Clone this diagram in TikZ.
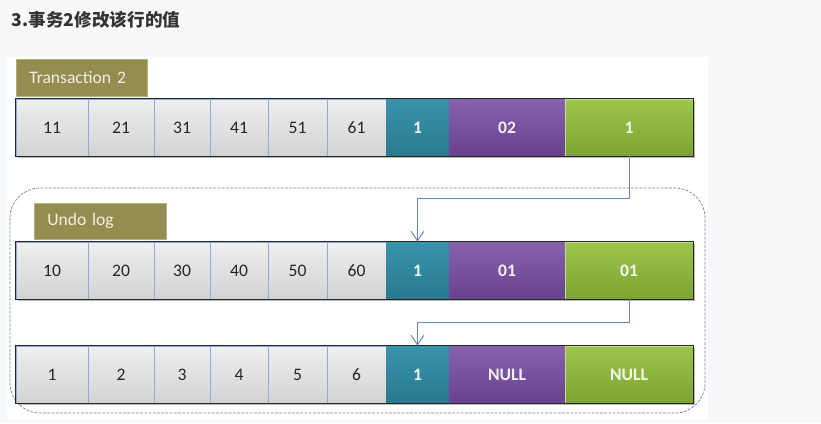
\documentclass[tikz,border=0pt]{standalone}
\usepackage{fontspec}
\setmainfont{Carlito}
\newfontfamily\cjkfont{Noto Sans CJK SC}
\usetikzlibrary{arrows.meta,fit,backgrounds,shadows}

\definecolor{pagebg}{HTML}{F7F8FA}
\definecolor{titletext}{HTML}{333333}
\definecolor{tagfill}{HTML}{958C50}
\definecolor{tagtext}{HTML}{F2F0E2}
\definecolor{graytop}{HTML}{EFEFEF}
\definecolor{graybot}{HTML}{D2D2D2}
\definecolor{cellline}{HTML}{8EAADB}
\definecolor{celltext}{HTML}{262626}
\definecolor{tealtop}{HTML}{3893AA}
\definecolor{tealbot}{HTML}{2A7A8F}
\definecolor{purptop}{HTML}{8762AE}
\definecolor{purpbot}{HTML}{68418F}
\definecolor{greentop}{HTML}{9DC44B}
\definecolor{greenbot}{HTML}{7DA432}
\definecolor{linkblue}{HTML}{5F8BC6}
\definecolor{undoedge}{HTML}{7A7F99}

\newcommand{\pxu}{0.025cm}

\begin{document}
\begin{tikzpicture}[x=0.025cm,y=-0.025cm,
    cell/.style={inner sep=0pt,minimum height=57*\pxu,font=\fontsize{12.5}{14}\selectfont},
    gcell/.style={cell,draw=cellline,line width=0.5pt,top color=graytop,bottom color=graybot,text=celltext},
    tcell/.style={cell,top color=tealtop,bottom color=tealbot,text=white!90!tealtop,font=\fontsize{12.5}{14}\selectfont\bfseries},
    pcell/.style={cell,top color=purptop,bottom color=purpbot,text=white!90!purptop,font=\fontsize{12.5}{14}\selectfont\bfseries},
    ecell/.style={cell,draw=greentop!60!white,line width=0.4pt,top color=greentop,bottom color=greenbot,text=white!90!greentop,font=\fontsize{12.5}{14}\selectfont\bfseries},
    rowframe/.style={inner sep=0pt,fill=white,drop shadow={shadow xshift=1.5pt,shadow yshift=-1.5pt,opacity=0.55}},
    rowedge/.style={draw=black!85,line width=0.7pt},
    tag/.style={anchor=north west,fill=tagfill,draw=tagfill!70!white,line width=0.4pt,text=tagtext,
        inner xsep=13*\pxu,inner ysep=0pt,align=left,font=\fontsize{12.5}{14}\selectfont},
    undobox/.style={draw=undoedge,dashed,dash pattern=on 2pt off 1pt,line width=0.5pt,rounded corners=0.75cm},
    link/.style={draw=linkblue,line width=0.7pt,-{Straight Barb[length=2.4mm,width=3.2mm]}}]

    % page and picture area
    \begin{scope}[on background layer]
        \fill[pagebg] (0,0) rectangle (821,423);
        \fill[white] (7,57) rectangle (708,420);
    \end{scope}
    \useasboundingbox (0,0) rectangle (821,423);

    \node[anchor=west,text=titletext,font=\cjkfont\bfseries\fontsize{12.5}{14}\selectfont] (title) at (7,20) {3.事务2修改该行的值};

    \draw[undobox] (10,188) rectangle (705,413);

    \node[tag,text width=105*\pxu,minimum height=37*\pxu] (trx) at (16,59) {Transaction 2};
    \node[tag,text width=106*\pxu,minimum height=36*\pxu] (undo) at (34,203) {Undo log};

    % current row
    \node[gcell,minimum width=72*\pxu] (r1a) at (52,127.5) {11};
    \node[gcell,minimum width=66*\pxu] (r1b) at (121,127.5) {21};
    \node[gcell,minimum width=56*\pxu] (r1c) at (182,127.5) {31};
    \node[gcell,minimum width=58*\pxu] (r1d) at (239,127.5) {41};
    \node[gcell,minimum width=59*\pxu] (r1e) at (297.5,127.5) {51};
    \node[gcell,minimum width=59*\pxu] (r1f) at (356.5,127.5) {61};
    \node[tcell,minimum width=63*\pxu] (r1g) at (417.5,127.5) {1};
    \node[pcell,minimum width=116*\pxu] (r1h) at (507,127.5) {02};
    \node[ecell,minimum width=128*\pxu] (r1i) at (629,127.5) {1};

    % undo log rows
    \node[gcell,minimum width=72*\pxu] (r2a) at (52,270.5) {10};
    \node[gcell,minimum width=66*\pxu] (r2b) at (121,270.5) {20};
    \node[gcell,minimum width=56*\pxu] (r2c) at (182,270.5) {30};
    \node[gcell,minimum width=58*\pxu] (r2d) at (239,270.5) {40};
    \node[gcell,minimum width=59*\pxu] (r2e) at (297.5,270.5) {50};
    \node[gcell,minimum width=59*\pxu] (r2f) at (356.5,270.5) {60};
    \node[tcell,minimum width=63*\pxu] (r2g) at (417.5,270.5) {1};
    \node[pcell,minimum width=116*\pxu] (r2h) at (507,270.5) {01};
    \node[ecell,minimum width=128*\pxu] (r2i) at (629,270.5) {01};

    \node[gcell,minimum width=72*\pxu] (r3a) at (52,374.5) {1};
    \node[gcell,minimum width=66*\pxu] (r3b) at (121,374.5) {2};
    \node[gcell,minimum width=56*\pxu] (r3c) at (182,374.5) {3};
    \node[gcell,minimum width=58*\pxu] (r3d) at (239,374.5) {4};
    \node[gcell,minimum width=59*\pxu] (r3e) at (297.5,374.5) {5};
    \node[gcell,minimum width=59*\pxu] (r3f) at (356.5,374.5) {6};
    \node[tcell,minimum width=63*\pxu] (r3g) at (417.5,374.5) {1};
    \node[pcell,minimum width=116*\pxu] (r3h) at (507,374.5) {NULL};
    \node[ecell,minimum width=128*\pxu] (r3i) at (629,374.5) {NULL};

    % frames with shadow
    \begin{scope}[on background layer]
        \node[rowframe,fit=(r1a)(r1i)] (row1) {};
        \node[rowframe,fit=(r2a)(r2i)] (row2) {};
        \node[rowframe,fit=(r3a)(r3i)] (row3) {};
    \end{scope}
    \draw[rowedge] (row1.north west) rectangle (row1.south east);
    \draw[rowedge] (row2.north west) rectangle (row2.south east);
    \draw[rowedge] (row3.north west) rectangle (row3.south east);

    % roll pointers
    \draw[link] (r1i.south) -- ++(0,42) -| (r2g.north);
    \draw[link] (r2i.south) -- ++(0,23) -| (r3g.north);
\end{tikzpicture}
\end{document}
